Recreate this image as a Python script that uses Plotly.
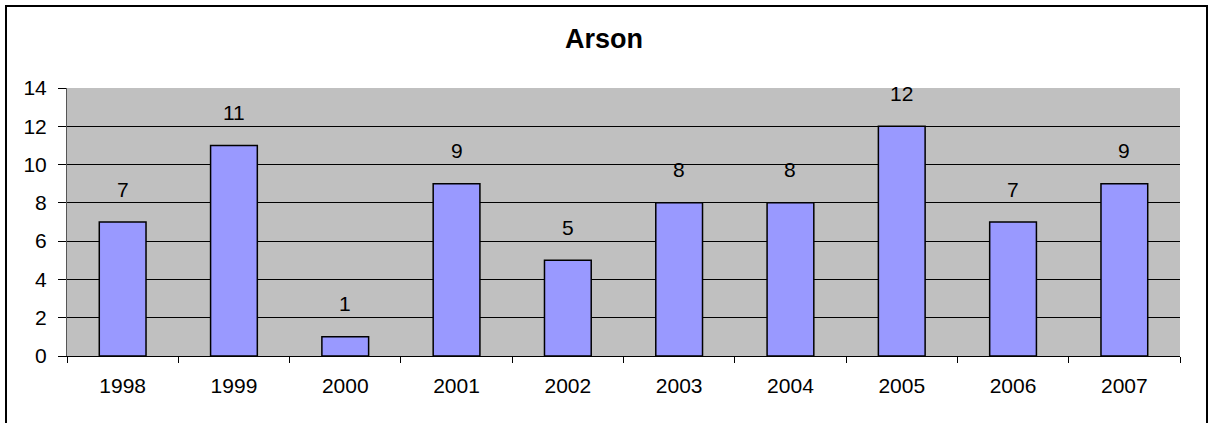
import plotly.graph_objects as go

years = ["1998", "1999", "2000", "2001", "2002", "2003", "2004", "2005", "2006", "2007"]
counts = [7, 11, 1, 9, 5, 8, 8, 12, 7, 9]
title_text = "Arson"

W, H = 1208, 423
L, R, T, B = 67, 28, 88, 67
pw, ph = W - L - R, H - T - B
FONT = "Arial, Liberation Sans, sans-serif"

fig = go.Figure(go.Bar(
    x=years, y=counts,
    marker=dict(color="#9999FF", line=dict(color="black", width=1.5)),
    width=0.42,
))

for i, c in enumerate(counts):
    fig.add_annotation(x=i, y=c, text=str(c), showarrow=False, yshift=33,
                       font=dict(family=FONT, size=21, color="black"))

# outer chart border
fig.add_shape(type="rect", xref="paper", yref="paper",
              x0=(6 - L) / pw, x1=(1207 - L) / pw,
              y0=(H - B - 440) / ph, y1=(H - B - 6) / ph,
              line=dict(color="black", width=2), fillcolor="rgba(0,0,0,0)", layer="below")

fig.update_layout(
    width=W, height=H,
    margin=dict(l=L, r=R, t=T, b=B),
    paper_bgcolor="white", plot_bgcolor="#C0C0C0",
    title=dict(text="<b>" + title_text + "</b>", x=0.5, xref="container", y=1 - 39 / H, yanchor="middle",
               font=dict(family=FONT, size=27, color="black")),
    font=dict(family=FONT, size=21, color="black"),
    showlegend=False,
    xaxis=dict(type="category", range=[-0.5, len(years) - 0.5], showgrid=False, ticks="outside",
               tickson="boundaries", ticklen=6, tickcolor="black", showline=True, linecolor="black",
               linewidth=1, ticklabelstandoff=11, tickfont=dict(size=21)),
    yaxis=dict(range=[0, 14], dtick=2, showgrid=True, gridcolor="black", gridwidth=1,
               ticks="outside", ticklen=8, tickcolor="black", showline=True, linecolor="#555555",
               linewidth=1, zeroline=False, ticklabelstandoff=7, tickfont=dict(size=21)),
)

fig.write_html("out.html", post_script="document.body.style.margin='0';",
               config={"displayModeBar": False})
